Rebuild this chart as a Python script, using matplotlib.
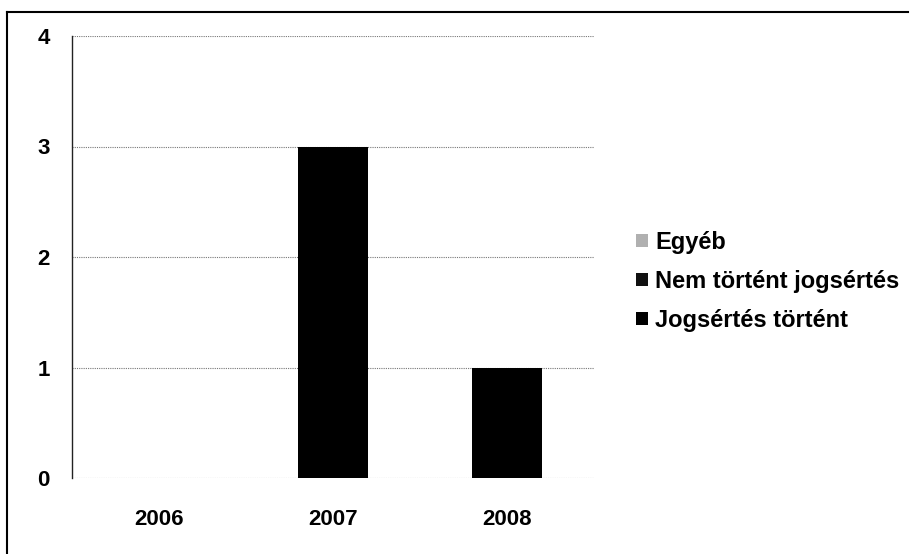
import matplotlib.pyplot as plt
import numpy as np

years = ['2006', '2007', '2008']
jogsertes_tortent = [0, 3, 1]
nem_tortent = [0, 0, 0]
egyeb = [0, 0, 0]
yticks = [0, 1, 2, 3, 4]

plt.rcParams['font.family'] = ['Liberation Sans', 'DejaVu Sans']
plt.rcParams['font.weight'] = 'bold'

fig = plt.figure(figsize=(9.12, 5.54), dpi=100)
ax = fig.add_axes([72 / 912, 1 - 478 / 554, 522 / 912, 442 / 554])

x = np.arange(len(years))
w = 0.4
b1 = ax.bar(x, jogsertes_tortent, w, color='black', label='Jogsértés történt')
b2 = ax.bar(x, nem_tortent, w, bottom=jogsertes_tortent, color='#111111',
            label='Nem történt jogsértés')
bottom2 = np.array(jogsertes_tortent) + np.array(nem_tortent)
b3 = ax.bar(x, egyeb, w, bottom=bottom2, color='#b0b0b0', label='Egyéb')

ax.set_xlim(-0.5, 2.5)
ax.set_ylim(0, 4)
ax.set_yticks(yticks)
ax.set_xticks(x)
ax.set_xticklabels(years)
ax.tick_params(axis='y', length=0, labelsize=16, pad=16)
ax.tick_params(axis='x', length=0, labelsize=16, pad=22)

ax.yaxis.grid(True, color='#777777', linestyle=(0, (1, 1)), linewidth=0.8)
ax.set_axisbelow(True)
for s in ['top', 'right', 'bottom']:
    ax.spines[s].set_visible(False)
ax.spines['left'].set_linestyle((0, (1, 1)))
ax.spines['left'].set_color('#222222')
ax.spines['left'].set_linewidth(1.0)

# outer frame (only left and top visible in the scan)
fig.add_artist(plt.Line2D([7 / 912, 7 / 912], [0, 1 - 12 / 554], color='black', lw=1.5))
fig.add_artist(plt.Line2D([7 / 912, 908 / 912], [1 - 12 / 554, 1 - 12 / 554], color='black', lw=1.5))

ax.legend(handles=[b3, b2, b1], loc='upper left',
          bbox_to_anchor=(636 / 912, 1 - 231 / 554), bbox_transform=fig.transFigure,
          frameon=False, fontsize=17, handlelength=0.5, handleheight=0.5,
          handletextpad=0.3, labelspacing=0.68, borderaxespad=0, borderpad=0)

fig.savefig('out.png', dpi=100)
